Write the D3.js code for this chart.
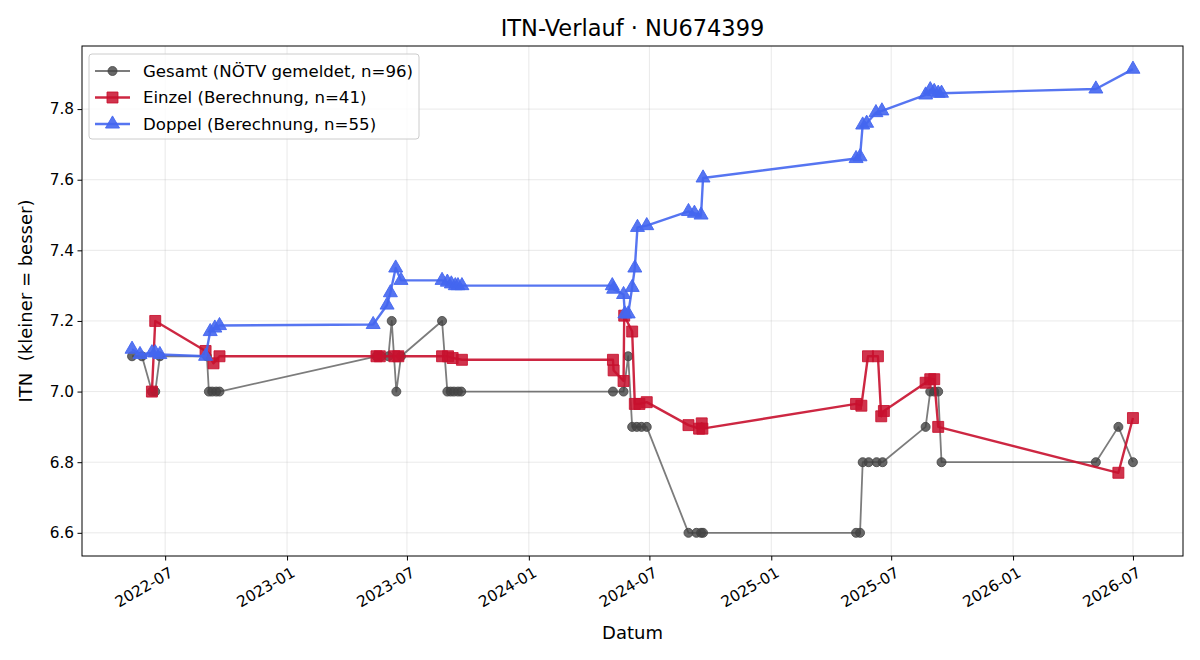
<!DOCTYPE html>
<html>
<head>
  <meta charset="UTF-8">
  <title>ITN-Verlauf</title>
  <style>
    body { margin: 0; background: #fff; }
    svg, svg text { font-family: "DejaVu Sans", sans-serif; }
  </style>
</head>
<body>
  <svg width="1200" height="660"></svg>

  <script src="https://d3js.org/d3.v7.min.js"></script>
  <script>
    // Gesamt (NÖTV gemeldet)
    const gesamtDates = ['2022-05-12','2022-05-27','2022-06-11','2022-06-16','2022-06-23','2022-09-02','2022-09-05','2022-09-10','2022-09-16','2022-09-21',
      '2023-05-16','2023-05-23','2023-06-03','2023-06-08','2023-06-15','2023-06-22','2023-08-23','2023-08-31','2023-09-05','2023-09-10','2023-09-16','2023-09-21',
      '2024-05-07','2024-05-23','2024-05-30','2024-06-05','2024-06-12','2024-06-19','2024-06-27','2024-08-29','2024-09-10','2024-09-17','2024-09-20',
      '2025-05-09','2025-05-15','2025-05-19','2025-05-28','2025-06-09','2025-06-18','2025-08-22','2025-08-29','2025-09-04','2025-09-10','2025-09-15',
      '2026-05-06','2026-06-09','2026-07-01'];
    const gesamtValues = [7.10,7.10,7.00,7.00,7.10,7.10,7.00,7.00,7.00,7.00,
      7.10,7.10,7.10,7.20,7.00,7.10,7.20,7.00,7.00,7.00,7.00,7.00,
      7.00,7.00,7.10,6.90,6.90,6.90,6.90,6.60,6.60,6.60,6.60,
      6.60,6.60,6.80,6.80,6.80,6.80,6.90,7.00,7.00,7.00,6.80,
      6.80,6.90,6.80];

    // Einzel (Berechnung)
    const einzelDates = ['2022-06-11','2022-06-16','2022-08-31','2022-09-12','2022-09-21',
      '2023-05-16','2023-05-21','2023-06-12','2023-06-18','2023-08-23','2023-09-01','2023-09-08','2023-09-22',
      '2024-05-07','2024-05-08','2024-05-23','2024-05-24','2024-06-05','2024-06-09','2024-06-16','2024-06-27',
      '2024-08-29','2024-09-14','2024-09-18','2024-09-19',
      '2025-05-09','2025-05-17','2025-05-27','2025-06-11','2025-06-16','2025-06-20','2025-08-22','2025-08-29','2025-09-04','2025-09-10',
      '2026-06-09','2026-07-01'];
    const einzelValues = [7.00,7.20,7.115,7.08,7.10,
      7.10,7.10,7.10,7.10,7.10,7.10,7.095,7.09,
      7.09,7.06,7.03,7.215,7.17,6.965,6.965,6.97,
      6.905,6.895,6.91,6.895,
      6.965,6.96,7.10,7.10,6.93,6.945,7.025,7.035,7.035,6.90,
      6.77,6.925];

    // Doppel (Berechnung)
    const doppelDates = ['2022-05-12','2022-05-24','2022-06-11','2022-06-16','2022-06-23','2022-08-31','2022-09-07','2022-09-14','2022-09-21',
      '2023-05-11','2023-06-01','2023-06-06','2023-06-14','2023-06-22','2023-08-23','2023-08-31','2023-09-06','2023-09-12','2023-09-16','2023-09-22',
      '2024-05-06','2024-05-08','2024-05-23','2024-05-25','2024-05-30','2024-06-05','2024-06-09','2024-06-13','2024-06-27',
      '2024-08-29','2024-09-07','2024-09-17','2024-09-20',
      '2025-05-09','2025-05-15','2025-05-19','2025-05-25','2025-06-08','2025-06-17','2025-08-22','2025-08-29','2025-09-04','2025-09-10','2025-09-15',
      '2026-05-06','2026-07-01'];
    const doppelValues = [7.12,7.105,7.11,7.11,7.105,7.10,7.17,7.18,7.187,
      7.19,7.245,7.28,7.35,7.315,7.315,7.31,7.305,7.30,7.30,7.30,
      7.30,7.29,7.275,7.22,7.22,7.295,7.35,7.465,7.47,
      7.51,7.505,7.50,7.605,
      7.66,7.665,7.755,7.76,7.79,7.795,7.84,7.855,7.85,7.845,7.845,
      7.857,7.913];

    const yTicks = [6.6, 6.8, 7.0, 7.2, 7.4, 7.6, 7.8];
    const xTicks = ['2022-07-01','2023-01-01','2023-07-01','2024-01-01','2024-07-01','2025-01-01','2025-07-01','2026-01-01','2026-07-01'];

    const parseDate = d3.timeParse('%Y-%m-%d');
    const formatDate = d3.timeFormat('%Y-%m');

    const series = [
      { label: 'Gesamt (NÖTV gemeldet, n=96)', dates: gesamtDates, values: gesamtValues,
        color: '#444444', lineOpacity: 0.7, width: 1.8, marker: 'circle', size: 64, markerOpacity: 0.8 },
      { label: 'Einzel (Berechnung, n=41)', dates: einzelDates, values: einzelValues,
        color: '#c8102e', lineOpacity: 0.9, width: 2.4, marker: 'square', size: 120, markerOpacity: 0.85 },
      { label: 'Doppel (Berechnung, n=55)', dates: doppelDates, values: doppelValues,
        color: '#4466f0', lineOpacity: 0.9, width: 2.4, marker: 'triangle', size: 85, markerOpacity: 0.9 }
    ];
    series.forEach(s => {
      s.data = s.dates.map((d, i) => ({ date: parseDate(d), value: s.values[i] }));
    });

    const margin = { top: 46, right: 17, bottom: 104, left: 82 };
    const width = 1200 - margin.left - margin.right;
    const height = 660 - margin.top - margin.bottom;

    const svg = d3.select('svg');
    const g = svg.append('g').attr('transform', `translate(${margin.left}, ${margin.top})`);

    // matplotlib-like 5% margins
    const allDates = series.flatMap(s => s.data.map(d => d.date));
    const allValues = series.flatMap(s => s.values);
    const [dMin, dMax] = d3.extent(allDates);
    const dPad = (dMax - dMin) * 0.05;
    const [vMin, vMax] = d3.extent(allValues);
    const vPad = (vMax - vMin) * 0.05;

    const xScale = d3.scaleTime()
      .domain([new Date(+dMin - dPad), new Date(+dMax + dPad)])
      .range([0, width]);
    const yScale = d3.scaleLinear()
      .domain([vMin - vPad, vMax + vPad])
      .range([height, 0]);

    const xTickDates = xTicks.map(parseDate);

    // grid
    g.append('g').selectAll('line').data(xTickDates).enter().append('line')
      .attr('x1', d => xScale(d)).attr('x2', d => xScale(d))
      .attr('y1', 0).attr('y2', height)
      .attr('stroke', '#b0b0b0').attr('stroke-opacity', 0.35).attr('stroke-width', 0.8);
    g.append('g').selectAll('line').data(yTicks).enter().append('line')
      .attr('x1', 0).attr('x2', width)
      .attr('y1', d => yScale(d)).attr('y2', d => yScale(d))
      .attr('stroke', '#b0b0b0').attr('stroke-opacity', 0.35).attr('stroke-width', 0.8);

    // axes
    const xAxis = g.append('g')
      .attr('transform', `translate(0, ${height})`)
      .call(d3.axisBottom(xScale).tickValues(xTickDates).tickFormat(formatDate).tickSize(4.5).tickSizeOuter(0));
    xAxis.selectAll('text')
      .attr('font-size', '15.3px')
      .attr('fill', '#000')
      .attr('text-anchor', 'end')
      .attr('dy', null)
      .attr('y', 0)
      .attr('transform', 'translate(3, 10) rotate(-30)')
      .attr('dominant-baseline', 'hanging');

    const yAxis = g.append('g')
      .call(d3.axisLeft(yScale).tickValues(yTicks).tickFormat(d3.format('.1f')).tickSize(4.5).tickSizeOuter(0));
    yAxis.selectAll('text').attr('font-size', '15.3px').attr('fill', '#000').attr('x', -8);

    [xAxis, yAxis].forEach(a => {
      a.attr('font-family', null).attr('font-size', null);
      a.select('.domain').remove();
      a.selectAll('line').attr('stroke', '#000').attr('stroke-width', 1);
    });

    // frame
    g.append('rect')
      .attr('width', width).attr('height', height)
      .attr('fill', 'none').attr('stroke', '#000').attr('stroke-width', 1);

    const symbolType = { circle: d3.symbolCircle, square: d3.symbolSquare, triangle: d3.symbolTriangle };

    const line = d3.line().x(d => xScale(d.date)).y(d => yScale(d.value));

    series.forEach(s => {
      g.append('path')
        .datum(s.data)
        .attr('fill', 'none')
        .attr('stroke', s.color)
        .attr('stroke-opacity', s.lineOpacity)
        .attr('stroke-width', s.width)
        .attr('stroke-linejoin', 'round')
        .attr('d', line);

      g.append('g').selectAll('path')
        .data(s.data)
        .enter()
        .append('path')
        .attr('d', d3.symbol().type(symbolType[s.marker]).size(s.size))
        .attr('transform', d => `translate(${xScale(d.date)}, ${yScale(d.value)})`)
        .attr('fill', s.color)
        .attr('fill-opacity', s.markerOpacity)
        .attr('stroke', s.color)
        .attr('stroke-opacity', s.markerOpacity)
        .attr('stroke-width', 1);
    });

    // title and axis labels
    svg.append('text')
      .attr('x', margin.left + width / 2).attr('y', 36)
      .attr('text-anchor', 'middle')
      .attr('font-size', '22.5px')
      .text('ITN-Verlauf · NU674399');

    svg.append('text')
      .attr('x', margin.left + width / 2).attr('y', 639)
      .attr('text-anchor', 'middle')
      .attr('font-size', '18px')
      .text('Datum');

    svg.append('text')
      .attr('transform', 'rotate(-90)')
      .attr('x', -(margin.top + height / 2)).attr('y', 32)
      .attr('text-anchor', 'middle')
      .attr('font-size', '18px')
      .attr('xml:space', 'preserve')
      .style('white-space', 'pre')
      .text('ITN  (kleiner = besser)');

    // legend
    const legend = g.append('g').attr('transform', 'translate(7, 8)');
    legend.append('rect')
      .attr('width', 330).attr('height', 85).attr('rx', 3)
      .attr('fill', '#fff').attr('fill-opacity', 0.8)
      .attr('stroke', '#ccc').attr('stroke-width', 1);

    series.forEach((s, i) => {
      const row = legend.append('g').attr('transform', `translate(0, ${17 + i * 26.5})`);
      row.append('line')
        .attr('x1', 6).attr('x2', 41)
        .attr('stroke', s.color).attr('stroke-opacity', s.lineOpacity)
        .attr('stroke-width', s.width);
      row.append('path')
        .attr('d', d3.symbol().type(symbolType[s.marker]).size(s.size))
        .attr('transform', 'translate(23.5, 0)')
        .attr('fill', s.color).attr('fill-opacity', s.markerOpacity)
        .attr('stroke', s.color).attr('stroke-opacity', s.markerOpacity);
      row.append('text')
        .attr('x', 54).attr('y', 0).attr('dy', '0.35em')
        .attr('font-size', '16.6px')
        .text(s.label);
    });
  </script>
</body>
</html>
